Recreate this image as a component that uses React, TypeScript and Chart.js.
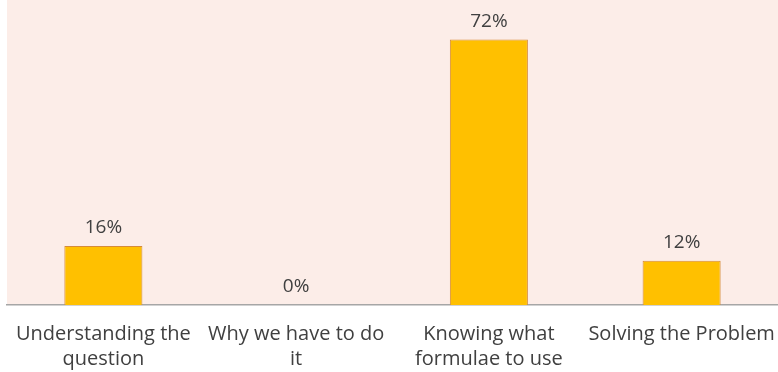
import React, { useEffect, useRef } from "react";
import { Chart, registerables } from "chart.js";

Chart.register(...registerables);

const categories: string[][] = [
  ["Understanding the", "question"],
  ["Why we have to do", "it"],
  ["Knowing what", "formulae to use"],
  ["Solving the Problem"],
];
const values: number[] = [16, 0, 72, 12];
const valueLabels: string[] = ["16%", "0%", "72%", "12%"];

const FONT = "'Open Sans', Lato, sans-serif";

const plotBg = {
  id: "plotBg",
  beforeDraw(chart: any) {
    const { ctx, chartArea } = chart;
    ctx.save();
    ctx.fillStyle = "#FCEDE8";
    ctx.fillRect(chartArea.left, chartArea.top - 10, chartArea.right - chartArea.left, chartArea.bottom - chartArea.top + 10);
    ctx.restore();
  },
};

const valueLabelPlugin = {
  id: "valueLabels",
  afterDatasetsDraw(chart: any) {
    const { ctx } = chart;
    const meta = chart.getDatasetMeta(0);
    ctx.save();
    ctx.fillStyle = "#404040";
    ctx.font = `19px ${FONT}`;
    ctx.textAlign = "center";
    ctx.textBaseline = "alphabetic";
    meta.data.forEach((bar: any, i: number) => {
      ctx.fillText(valueLabels[i], bar.x, bar.y - 13);
    });
    ctx.restore();
  },
};

export default function App() {
  const ref = useRef<HTMLCanvasElement | null>(null);
  useEffect(() => {
    if (!ref.current) return;
    const chart = new Chart(ref.current, {
      type: "bar",
      data: {
        labels: categories,
        datasets: [
          {
            data: values,
            backgroundColor: "#FFC000",
            borderColor: "#D58B3A",
            borderWidth: 1,
            categoryPercentage: 1,
            barPercentage: 0.405,
          },
        ],
      },
      options: {
        animation: false,
        responsive: false,
        maintainAspectRatio: false,
        layout: { autoPadding: false, padding: { left: 7, top: 10, right: 0, bottom: 0 } },
        plugins: { legend: { display: false }, tooltip: { enabled: false } },
        scales: {
          y: { display: false, min: 0, max: 80 },
          x: {
            grid: { display: false },
            border: { display: true, color: "#A6A6A6", width: 1.5 },
            afterFit: (scale: any) => {
              scale.height = 67;
              scale.paddingLeft = 0;
              scale.paddingRight = 0;
            },
            ticks: {
              color: "#404040",
              font: { family: FONT, size: 20, lineHeight: 1.25 },
              padding: 9,
              maxRotation: 0,
              autoSkip: false,
            },
          },
        },
      },
      plugins: [plotBg, valueLabelPlugin],
    });
    return () => chart.destroy();
  }, []);
  return (
    <div style={{ position: "absolute", left: 0, top: 0, width: 778, height: 372, background: "#fff" }}>
      <canvas ref={ref} width={778} height={372} style={{ width: 778, height: 372 }} />
    </div>
  );
}
